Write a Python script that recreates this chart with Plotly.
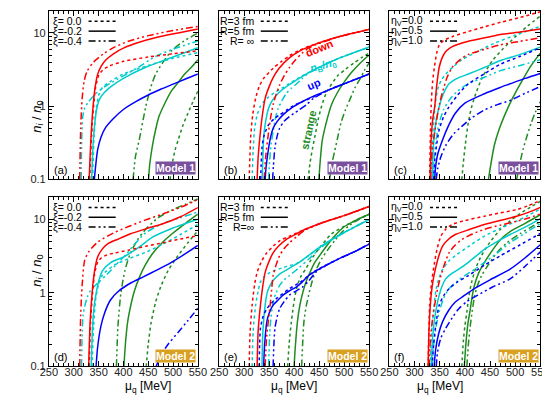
import plotly.graph_objects as go

# ---------------- axis ticks ----------------
MU_TICKS = [250, 300, 350, 400, 450, 500, 550]
N_TICKS = [0.1, 1, 10]
N_TICK_TEXT = ["0.1", "1", "10"]

# ---------------- data: (mu_q [MeV], n_i/n_0) ----------------
# d = down (red), b = baryon n_B/n_0 (cyan), u = up (blue), s = strange (green)
# dot / sol / dd = dotted / solid / dash-dot-dot
# Panel (a): Model 1, xi
a_d_dot = [(332,0.1),(336,0.4),(340,1.0),(344,1.8),(350,2.6),(358,3.1),(370,3.5),(400,4.1),(450,4.7),(500,5.2),(550,5.7)]
a_d_sol = [(331,0.1),(335,0.4),(339,1.0),(343,1.8),(348,2.7),(355,3.5),(365,4.3),(380,5.2),(400,6.2),(430,7.4),(470,8.8),(510,10.0),(550,11.3)]
a_d_dd = [(312,0.1),(314,0.5),(317,1.3),(321,2.2),(327,3.0),(340,4.0),(360,5.2),(380,6.3),(410,7.7),(450,9.2),(500,10.8),(550,12.3)]
a_b_dot = [(338,0.1),(341,0.4),(345,0.9),(350,1.4),(358,1.8),(375,2.2),(400,2.75),(450,3.6),(500,4.5),(550,5.4)]
a_b_sol = [(336,0.1),(339,0.3),(342,0.55),(346,0.9),(352,1.25),(362,1.55),(375,1.85),(400,2.4),(445,3.4),(500,4.7),(550,6.3)]
a_b_dd = [(315,0.1),(316,0.35),(318,0.7),(322,0.95),(330,1.15),(345,1.5),(365,1.9),(400,2.6),(430,3.4),(465,4.8),(500,6.0),(550,7.8)]
a_u_sol = [(341.5,0.1),(344,0.15),(348,0.25),(355,0.38),(365,0.52),(380,0.68),(400,0.9),(425,1.15),(450,1.42),(475,1.7),(500,2.0),(525,2.35),(550,2.75)]
a_s_dot = [(494,0.1),(498,0.16),(504,0.25),(510.6,0.35),(520,0.55),(530,0.8),(540,1.15),(550,1.6)]
a_s_sol = [(450.7,0.1),(453,0.16),(458.5,0.29),(465,0.48),(471.6,0.72),(485,1.15),(497.5,1.64),(510,2.1),(523.5,2.75),(537,3.4),(550,4.3)]
a_s_dd = [(419.6,0.1),(424,0.2),(432,0.35),(445,0.98),(455,1.8),(465,2.75),(480,4.0),(497,5.7),(520,7.6),(550,10.0)]

# Panel (b): Model 1, R
b_d_dot = [(310,0.1),(311.5,0.2),(313,0.37),(317,0.75),(323,1.28),(330,1.85),(339,2.4),(358,3.3),(375,4.1),(391,4.9),(410,5.8),(430,6.6),(487,8.8),(520,10.0),(550,11.2)]
b_d_sol = [(326,0.1),(328,0.2),(332.6,0.45),(337,0.8),(342,1.28),(350,1.85),(358,2.45),(370,3.3),(391,4.6),(410,5.6),(430,6.5),(487,8.8),(520,10.0),(550,11.2)]
b_d_dd = [(340,0.1),(343,0.2),(349,0.45),(353,0.7),(358,1.05),(364,1.45),(371,1.94),(380,2.6),(391,3.4),(403,4.3),(416,5.3),(430,6.3),(487,8.8),(520,10.0),(550,11.2)]
b_b_dot = [(316,0.1),(318,0.25),(321,0.5),(326,0.76),(332,0.98),(339,1.15),(348,1.32),(358,1.48),(375,1.75),(391,2.05),(410,2.45),(430,2.9),(475,4.1),(510,5.1),(550,6.4)]
b_b_sol = [(336,0.1),(337.5,0.2),(339,0.37),(343,0.62),(348.7,0.93),(355,1.15),(361.6,1.34),(375,1.65),(391,1.98),(410,2.4),(430,2.9),(475,4.1),(510,5.1),(550,6.4)]
b_b_dd = [(349,0.1),(351,0.18),(354,0.3),(358,0.45),(363,0.7),(368,0.93),(376,1.2),(384,1.48),(394,1.75),(403.5,1.98),(415,2.35),(430,2.85),(475,4.1),(510,5.1),(550,6.4)]
b_u_dot = [(333,0.1),(334,0.16),(335.7,0.27),(340,0.4),(349,0.56),(360,0.67),(371,0.76),(385,0.88),(397,1.0),(416,1.15),(440,1.35),(475,1.73),(510,2.15),(550,2.75)]
b_u_sol = [(342,0.1),(344,0.15),(349,0.27),(353,0.38),(358,0.5),(367,0.63),(377.7,0.76),(395,0.95),(416,1.15),(440,1.38),(475,1.73),(510,2.15),(550,2.75)]
b_u_dd = [(357,0.1),(358.5,0.15),(361.6,0.27),(366,0.39),(371,0.5),(380,0.62),(390.7,0.72),(400,0.8),(410,0.89),(425,1.05),(440,1.3),(475,1.73),(510,2.15),(550,2.75)]
b_s_dot = [(428,0.1),(432,0.17),(437,0.27),(442,0.4),(448,0.65),(455,1.0),(465,1.55),(487,2.6),(503,3.2),(520,3.9),(535,4.6),(550,5.3)]
b_s_sol = [(449.5,0.1),(452,0.17),(456,0.33),(463,0.55),(474.5,1.04),(487,1.55),(500,2.13),(515,2.9),(532.5,3.9),(550,5.0)]
b_s_dd = [(471,0.1),(476,0.17),(481,0.24),(487,0.37),(494,0.6),(503,0.9),(513,1.3),(522,1.8),(532.5,2.4),(541,3.1),(550,3.9)]

# Panel (c): Model 1, eta_V
c_d_dot = [(330,0.1),(331.5,0.4),(333,0.98),(336,2.2),(340,3.6),(344,5.3),(349,6.8),(358,7.9),(375,8.9),(407,10.5),(440,12.2),(471,14.0),(510,16.3),(550,19.5)]
c_d_sol = [(331,0.1),(333,0.35),(336,0.65),(340,0.98),(344,1.9),(349,3.4),(355,4.6),(362,5.6),(375,6.5),(407,7.7),(440,8.6),(471,9.5),(510,10.3),(550,11.3)]
c_d_dd = [(332,0.1),(335,0.25),(339,0.4),(343,0.6),(350,1.1),(356.5,1.64),(365,2.5),(375,3.4),(390,4.3),(407,5.1),(440,6.0),(471,6.9),(510,7.7),(550,8.6)]
c_b_dot = [(333,0.1),(335,0.3),(338,0.6),(342,1.2),(348,1.9),(355,2.35),(362,2.75),(378,3.5),(394,4.3),(430,5.8),(458,7.2),(500,9.3),(550,12.3)]
c_b_sol = [(335,0.1),(337,0.25),(340,0.45),(344,0.7),(349,0.98),(356,1.4),(368.6,2.02),(385,2.4),(407,2.75),(440,3.4),(471,4.2),(510,5.1),(550,6.4)]
c_b_dd = [(337,0.1),(339,0.2),(343,0.35),(349,0.59),(358,0.9),(368.6,1.2),(385,1.6),(407,2.02),(440,2.5),(471,3.06),(510,3.6),(550,4.3)]
c_u_dot = [(338,0.1),(340,0.18),(344,0.3),(349,0.48),(358,0.72),(368.6,0.98),(385,1.4),(407,2.02),(440,2.8),(471,3.76),(510,4.8),(550,6.3)]
c_u_sol = [(340,0.1),(342,0.15),(346,0.22),(356,0.35),(368,0.55),(381,0.8),(400,1.1),(439,1.48),(470,1.8),(490,2.02),(520,2.4),(550,2.8)]
c_u_dd = [(343,0.1),(346,0.14),(352,0.2),(362,0.29),(378,0.42),(394,0.53),(415,0.7),(439,0.89),(465,1.05),(490,1.2),(520,1.5),(550,1.85)]
c_s_dot = [(394,0.1),(397,0.17),(401,0.3),(406,0.55),(413,0.95),(422,1.5),(435,2.5),(455,4.2),(475,6.0),(500,8.8),(525,12.5),(550,17.0)]
c_s_sol = [(447,0.1),(451,0.15),(458.5,0.29),(468,0.48),(478,0.72),(490,1.1),(503,1.64),(518,2.5),(532,3.6),(550,5.3)]
c_s_dd = [(503,0.1),(508,0.15),(516,0.26),(524,0.4),(532,0.59),(540,0.82),(550,1.15)]

# Panel (d): Model 2, xi
d_d_dot = [(331,0.1),(334,0.4),(338,1.0),(342,1.8),(348,2.6),(356,3.0),(368,3.3),(380.6,3.45),(410,3.8),(445.5,4.3),(480,4.8),(515,5.4),(550,6.0)]
d_d_sol = [(330,0.1),(333,0.4),(337,1.0),(341,1.8),(348,3.06),(357,3.9),(367.6,4.6),(390,5.4),(413,6.3),(445,7.4),(478,8.6),(515,10.8),(550,14.4)]
d_d_dd = [(312,0.1),(314,0.5),(317,1.3),(322,2.76),(330,3.6),(348,4.87),(380,6.5),(413,8.1),(445,9.8),(478,11.7),(515,14.5),(550,18.5)]
d_b_dot = [(337,0.1),(340,0.35),(344,0.8),(350,1.3),(358,1.75),(380.6,2.36),(410,2.9),(445.5,3.57),(480,4.6),(515,6.2),(550,8.5)]
d_b_sol = [(335,0.1),(338,0.35),(341,0.65),(345,0.98),(351,1.5),(358,2.0),(375,2.6),(400,3.06),(430,4.1),(458.5,5.7),(500,7.6),(550,10.0)]
d_b_dd = [(315.7,0.1),(317,0.3),(319,0.5),(322,0.65),(328,0.9),(335,1.1),(350,1.4),(367.6,1.8),(385,2.4),(406.5,3.4),(425,4.8),(445.5,6.6),(480,8.8),(515,10.5),(550,12.5)]
d_u_sol = [(345,0.1),(348,0.18),(354.6,0.35),(362,0.53),(374,0.8),(390,1.05),(413,1.34),(440,1.65),(465,2.0),(495,2.55),(525,3.4),(550,4.4)]
d_u_dd = [(466,0.1),(475,0.14),(490,0.2),(510,0.29),(530,0.42),(550,0.62)]
d_s_dot = [(446,0.1),(450,0.2),(456,0.4),(465,0.75),(475,1.2),(490,2.0),(510,3.2),(530,4.8),(550,7.0)]
d_s_sol = [(401,0.1),(404,0.2),(408,0.38),(413,0.59),(422,1.05),(432.6,1.65),(445,2.45),(458.5,3.4),(478,4.8),(497.5,6.3),(525,8.8),(550,11.7)]
d_s_dd = [(386,0.1),(389,0.35),(395,1.0),(403,2.0),(413,3.3),(428,5.2),(445,7.3),(470,10.5),(500,13.5),(525,16.0),(550,18.8)]

# Panel (e): Model 2, R
e_d_dot = [(310,0.1),(312,0.3),(316,0.68),(321,1.3),(326,1.9),(335,2.7),(345.5,3.5),(358,4.3),(371,5.1),(391,5.9),(420,7.2),(455,8.9),(500,11.2),(550,14.9)]
e_d_sol = [(326,0.1),(328,0.3),(332.6,0.68),(337,1.2),(342,1.9),(350,2.7),(358,3.5),(370,4.4),(384,5.3),(400,6.1),(420,7.2),(455,8.9),(500,11.2),(550,14.9)]
e_d_dd = [(342,0.1),(345,0.25),(352,0.68),(355,1.1),(358,1.72),(364,2.4),(371,3.2),(380,4.0),(391,4.8),(405,5.8),(420,7.0),(455,8.9),(500,11.2),(550,14.9)]
e_b_dot = [(316,0.1),(318,0.3),(323,0.68),(328,1.05),(332.6,1.4),(340,1.65),(352,1.9),(377.7,2.2),(410,2.6),(455,4.35),(500,6.6),(550,9.9)]
e_b_sol = [(335.7,0.1),(337.5,0.3),(342,0.68),(346,1.0),(352,1.26),(361,1.55),(371,1.8),(385,2.05),(397,2.3),(410,2.6),(455,4.35),(500,6.6),(550,9.9)]
e_b_dd = [(349,0.1),(352,0.35),(358,0.75),(364,1.0),(371,1.26),(380,1.5),(390.7,1.72),(410,2.2),(430,2.9),(455,4.2),(500,6.6),(550,9.9)]
e_u_dot = [(330,0.1),(331,0.2),(332.6,0.33),(338,0.48),(345.5,0.61),(355,0.73),(365,0.84),(390.7,1.14),(416,1.45),(440,1.95),(487,2.85),(520,3.6),(550,4.6)]
e_u_sol = [(339,0.1),(341,0.2),(345.5,0.41),(350,0.53),(358,0.68),(368,0.8),(377.7,0.93),(390,1.06),(403.5,1.19),(416,1.4),(429,1.72),(487,2.85),(520,3.6),(550,4.6)]
e_u_dd = [(358,0.1),(359.5,0.2),(361.6,0.33),(366,0.47),(371,0.61),(380,0.76),(390.7,0.93),(403,1.05),(416,1.19),(429,1.45),(445,1.95),(487,2.85),(520,3.6),(550,4.6)]
e_s_dot = [(387,0.1),(390,0.2),(394,0.38),(397,0.55),(401,0.85),(406.7,1.26),(414,1.7),(423,2.1),(435,2.9),(448.7,3.9),(474.5,6.3),(500,8.0),(525,9.8),(550,11.7)]
e_s_sol = [(400,0.1),(402,0.17),(406.7,0.41),(411,0.65),(416,0.93),(422,1.3),(429,1.72),(440,2.5),(455,3.5),(468,4.6),(481,5.9),(500,7.9),(525,9.8),(550,11.7)]
e_s_dd = [(415,0.1),(417,0.2),(419.7,0.41),(424,0.65),(429,0.93),(435,1.35),(442,1.9),(455,2.9),(468,3.9),(481,5.1),(494,6.5),(510,8.2),(530,10.0),(550,11.7)]

# Panel (f): Model 2, eta_V
f_d_dot = [(327,0.1),(328.5,0.3),(330,0.68),(334,1.4),(339.8,2.6),(345,4.0),(352.5,5.9),(362,7.3),(375,8.5),(400,9.6),(439,11.0),(470,12.2),(503,13.5),(525,15.2),(550,18.0)]
f_d_sol = [(327,0.1),(329,0.35),(333,0.93),(337,1.5),(343,2.34),(349,3.3),(356,4.35),(368,5.4),(381,6.2),(410,7.3),(439,8.5),(470,9.6),(503,11.0),(525,12.3),(550,14.5)]
f_d_dd = [(329,0.1),(331,0.2),(335,0.4),(340,0.68),(346,1.15),(352.5,1.72),(360,2.5),(368.6,3.5),(380,4.4),(394,5.3),(415,6.3),(439,7.3),(470,8.3),(503,9.4),(525,10.3),(550,11.8)]
f_b_dot = [(331,0.1),(334,0.3),(338,0.6),(343,1.14),(349,1.6),(356,2.1),(368,2.7),(381,3.2),(410,4.4),(439,5.9),(470,7.5),(503,9.4),(525,11.2),(550,13.8)]
f_b_sol = [(333,0.1),(336,0.25),(340,0.45),(344,0.65),(349,0.93),(355,1.25),(362,1.55),(375,1.85),(388,2.1),(407,2.6),(439,3.9),(465,5.0),(490,6.2),(520,7.8),(550,10.2)]
f_b_dd = [(335,0.1),(338,0.2),(343,0.35),(349,0.55),(358,0.85),(368.6,1.14),(385,1.45),(400,1.72),(420,2.1),(439,2.6),(465,3.5),(490,4.8),(520,6.5),(550,8.7)]
f_u_dot = [(335,0.1),(338,0.2),(343,0.4),(349,0.68),(358,0.92),(368.6,1.14),(385,1.4),(407,1.72),(440,2.4),(471,3.2),(510,4.5),(550,6.4)]
f_u_sol = [(339,0.1),(342,0.17),(348,0.28),(356,0.41),(368,0.58),(381,0.75),(400,0.93),(419,1.14),(450,1.5),(490,2.1),(520,3.0),(550,4.5)]
f_u_dd = [(343,0.1),(346,0.16),(352,0.24),(362,0.33),(375,0.46),(388,0.61),(405,0.77),(426,0.93),(455,1.2),(490,1.55),(520,2.3),(550,3.6)]
f_s_dot = [(394,0.1),(397,0.22),(400,0.35),(404,0.55),(408,0.9),(413.5,1.4),(422,2.2),(433,3.2),(450,4.9),(471,7.3),(490,9.5),(510,12.0),(530,14.5),(550,17.5)]
f_s_sol = [(399,0.1),(402,0.2),(406,0.38),(410,0.55),(414,0.85),(419,1.26),(428,1.9),(439,2.6),(455,3.8),(471,5.3),(490,6.8),(520,8.8),(550,11.5)]
f_s_dd = [(404,0.1),(407,0.2),(410,0.32),(413.5,0.5),(418,0.8),(423,1.14),(433,1.7),(445.5,2.34),(465,3.6),(484,4.8),(510,6.4),(530,7.7),(550,9.3)]

# ---------------- legend / labels text ----------------
LEG_A = ["ξ= 0.0", "ξ=-0.2", "ξ=-0.4"]
LEG_B = ["R=3 fm", "R=5 fm", "R= ∞"]
LEG_C = ["η<sub>V</sub>=0.0", "η<sub>V</sub>=0.5", "η<sub>V</sub>=1.0"]
LEG_E = ["R=3 fm", "R=5 fm", "R=∞"]

# ---------------- styles ----------------
COLORS = {"d": "#ff0000", "b": "#00cccc", "u": "#0000ff", "s": "#1e8c1e"}
DASHES = {"dot": "dot", "sol": "solid", "dd": "7px,3px,2px,3px,2px,3px"}
FONT = "Liberation Sans, Arial, Helvetica, sans-serif"
W, H = 550, 395

COLS = [(33, 187), (209, 364), (385, 541)]
ROWS = [(3, 174), (192, 364)]

panels = [
    ("a", 0, 0, {"d": {"dot": a_d_dot, "sol": a_d_sol, "dd": a_d_dd},
                 "b": {"dot": a_b_dot, "sol": a_b_sol, "dd": a_b_dd},
                 "u": {"sol": a_u_sol},
                 "s": {"dot": a_s_dot, "sol": a_s_sol, "dd": a_s_dd}}, LEG_A, 1),
    ("b", 0, 1, {"d": {"dot": b_d_dot, "sol": b_d_sol, "dd": b_d_dd},
                 "b": {"dot": b_b_dot, "sol": b_b_sol, "dd": b_b_dd},
                 "u": {"dot": b_u_dot, "sol": b_u_sol, "dd": b_u_dd},
                 "s": {"dot": b_s_dot, "sol": b_s_sol, "dd": b_s_dd}}, LEG_B, 1),
    ("c", 0, 2, {"d": {"dot": c_d_dot, "sol": c_d_sol, "dd": c_d_dd},
                 "b": {"dot": c_b_dot, "sol": c_b_sol, "dd": c_b_dd},
                 "u": {"dot": c_u_dot, "sol": c_u_sol, "dd": c_u_dd},
                 "s": {"dot": c_s_dot, "sol": c_s_sol, "dd": c_s_dd}}, LEG_C, 1),
    ("d", 1, 0, {"d": {"dot": d_d_dot, "sol": d_d_sol, "dd": d_d_dd},
                 "b": {"dot": d_b_dot, "sol": d_b_sol, "dd": d_b_dd},
                 "u": {"sol": d_u_sol, "dd": d_u_dd},
                 "s": {"dot": d_s_dot, "sol": d_s_sol, "dd": d_s_dd}}, LEG_A, 2),
    ("e", 1, 1, {"d": {"dot": e_d_dot, "sol": e_d_sol, "dd": e_d_dd},
                 "b": {"dot": e_b_dot, "sol": e_b_sol, "dd": e_b_dd},
                 "u": {"dot": e_u_dot, "sol": e_u_sol, "dd": e_u_dd},
                 "s": {"dot": e_s_dot, "sol": e_s_sol, "dd": e_s_dd}}, LEG_E, 2),
    ("f", 1, 2, {"d": {"dot": f_d_dot, "sol": f_d_sol, "dd": f_d_dd},
                 "b": {"dot": f_b_dot, "sol": f_b_sol, "dd": f_b_dd},
                 "u": {"dot": f_u_dot, "sol": f_u_sol, "dd": f_u_dd},
                 "s": {"dot": f_s_dot, "sol": f_s_sol, "dd": f_s_dd}}, LEG_C, 2),
]

fig = go.Figure()
annotations = []
shapes = []


def px(x):
    return x / W


def py(y):
    return 1 - y / H


for i, (name, r, c, curves, leg, model) in enumerate(panels):
    k = "" if i == 0 else str(i + 1)
    xa, ya = "x" + k, "y" + k
    x0, x1 = COLS[c]
    y0, y1 = ROWS[r]
    common = dict(showline=True, linecolor="black", linewidth=1, mirror="allticks",
                  ticks="inside", tickcolor="black", ticklen=5, showgrid=False,
                  zeroline=False, tickfont=dict(family=FONT, size=11, color="#222"))
    fig.update_layout(**{
        "xaxis" + k: dict(common, domain=[px(x0), px(x1)], range=[250, 550],
                          tickvals=MU_TICKS, showticklabels=(r == 1), anchor=ya,
                          ticklabelstandoff=-5,
                          minor=dict(ticks="inside", ticklen=3, dtick=10, tickcolor="black")),
        "yaxis" + k: dict(common, domain=[py(y1), py(y0)], type="log", range=[-1, 1.301],
                          tickvals=N_TICKS, ticktext=N_TICK_TEXT, showticklabels=(c == 0),
                          anchor=xa,
                          minor=dict(ticks="inside", ticklen=3, dtick="D1", tickcolor="black")),
    })
    for q in ["s", "b", "u", "d"]:
        for sty in ["dot", "sol", "dd"]:
            pts = curves[q].get(sty)
            if not pts:
                continue
            fig.add_trace(go.Scatter(
                x=[p[0] for p in pts], y=[p[1] for p in pts], mode="lines",
                line=dict(color=COLORS[q], width=1.5, dash=DASHES[sty], shape="spline", smoothing=0.7),
                xaxis=xa, yaxis=ya, showlegend=False, hoverinfo="skip"))
    # legend
    lx = {0: 69, 1: 247, 2: 422}[c]
    for j, (txt, sty) in enumerate(zip(leg, ["dot", "sol", "dd"])):
        yy = y0 + 10.5 + 10 * j
        annotations.append(dict(x=px(lx), y=py(yy), xref="paper", yref="paper", text=txt,
                                showarrow=False, xanchor="right", yanchor="middle",
                                font=dict(family=FONT, size=10.5, color="black")))
        shapes.append(dict(type="line", xref="paper", yref="paper", x0=px(lx + 5), x1=px(lx + 33),
                           y0=py(yy), y1=py(yy), line=dict(color="black", width=1.5, dash=DASHES[sty])))
    # panel label
    annotations.append(dict(x=px(x0 + 3), y=py(y1 - 10), xref="paper", yref="paper",
                            text="(" + name + ")", showarrow=False, xanchor="left", yanchor="middle",
                            font=dict(family=FONT, size=11, color="black")))
    # model badge
    annotations.append(dict(x=px(x1 - 1.5), y=py(y1 - 4), xref="paper", yref="paper",
                            text="<b>Model %d</b>" % model, showarrow=False, xanchor="right",
                            yanchor="bottom", bgcolor="#7a4f9e" if model == 1 else "#d9a021",
                            borderpad=0,
                            font=dict(family=FONT, size=10.5, color="white")))

# curve labels in panel (b)
for txt, col, xv, yv, ang in [("<b>down</b>", COLORS["d"], 451, 0.79, -22),
                              ("<b><i>n</i><sub>B</sub>/<i>n</i><sub>0</sub></b>", COLORS["b"], 458, 0.55, -15),
                              ("<b>up</b>", COLORS["u"], 440, 0.30, -22),
                              ("<b>strange</b>", COLORS["s"], 428, -0.32, -78)]:
    annotations.append(dict(x=xv, y=yv, xref="x2", yref="y2", text=txt, showarrow=False,
                            textangle=ang, font=dict(family=FONT, size=11, color=col)))

# axis titles
for yc in [92, 285]:
    annotations.append(dict(x=px(10), y=py(yc), xref="paper", yref="paper",
                            text="<i>n<sub>i</sub></i> / <i>n</i><sub>0</sub>", showarrow=False,
                            textangle=-90, font=dict(family=FONT, size=13, color="black")))
for (x0, x1) in COLS:
    annotations.append(dict(x=px((x0 + x1) / 2), y=py(385), xref="paper", yref="paper",
                            text="μ<sub>q</sub> [MeV]", showarrow=False, yanchor="middle",
                            font=dict(family=FONT, size=12, color="black")))

fig.update_layout(width=W, height=H, margin=dict(l=0, r=0, t=0, b=0),
                  paper_bgcolor="white", plot_bgcolor="white",
                  annotations=annotations, shapes=shapes, showlegend=False)

fig.write_html("out.html")
